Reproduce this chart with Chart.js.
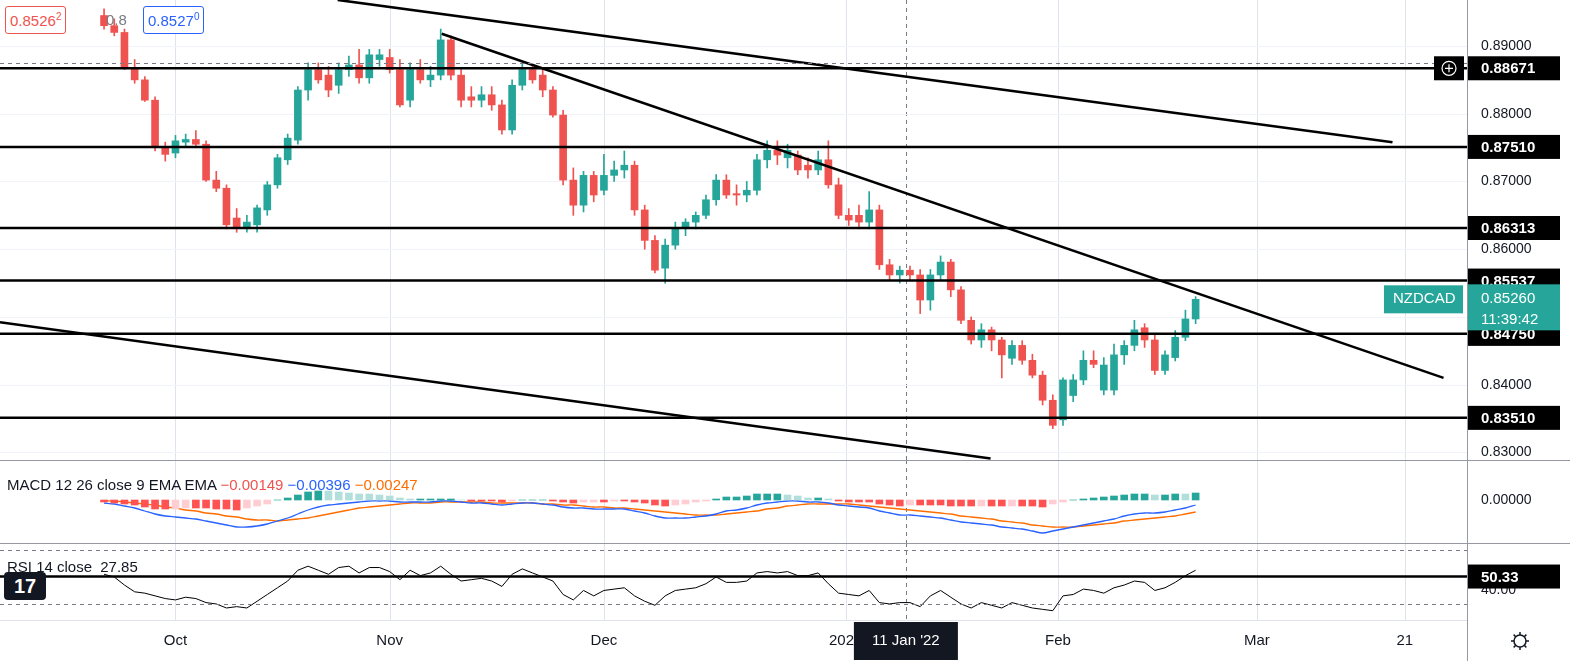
<!DOCTYPE html>
<html><head><meta charset="utf-8">
<script src="https://cdn.jsdelivr.net/npm/chart.js@4.4.0/dist/chart.umd.min.js"></script>
<style>
body{margin:0;background:#fff;width:1570px;height:661px;overflow:hidden;font-family:"Liberation Sans",Arial,sans-serif}
canvas{position:absolute;left:0}
#c1{top:0}#c2{top:460px}#c3{top:543px}
.sep{position:absolute;left:0;width:1570px;height:1px;background:#9598a1}
.lg{position:absolute;font-size:15px;color:#131722;white-space:nowrap}
</style></head><body>
<canvas id="c1" width="1570" height="460" style="width:1570px;height:460px"></canvas>
<canvas id="c2" width="1570" height="83" style="width:1570px;height:83px"></canvas>
<canvas id="c3" width="1570" height="118" style="width:1570px;height:118px"></canvas>
<div class="sep" style="top:460px"></div>
<div class="sep" style="top:543px"></div>
<div class="sep" style="top:620px;width:1468px;background:#e0e3eb"></div>
<div style="position:absolute;left:1467px;top:0;width:1px;height:661px;background:#9598a1"></div>
<div class="lg" style="left:5px;top:6px;border:1px solid #ef5350;color:#ef5350;border-radius:3px;padding:4px 4px;background:#fff">0.8526<sup style="font-size:10px">2</sup></div>
<div class="lg" style="left:106px;top:11px;color:#787b86">0.8</div>
<div class="lg" style="left:143px;top:6px;border:1px solid #2962ff;color:#2962ff;border-radius:3px;padding:4px 4px;background:#fff">0.8527<sup style="font-size:10px">0</sup></div>
<div class="lg" style="left:7px;top:476px">MACD 12 26 close 9 EMA EMA <span style="color:#ef5350">&minus;0.00149</span> <span style="color:#2962ff">&minus;0.00396</span> <span style="color:#ff6d00">&minus;0.00247</span></div>
<div class="lg" style="left:7px;top:558px">RSI 14 close <span style="margin-left:4px">27.85</span></div>
<div style="position:absolute;left:4px;top:572px;width:42px;height:28px;background:#131722;border-radius:4px;color:#fff;font-weight:bold;font-size:20px;text-align:center;line-height:28px">17</div>
<script>
const categoriesOHLC = [
[0.8945,0.8955,0.8925,0.8930],[0.8930,0.8940,0.8915,0.8920],[0.8920,0.8925,0.8865,0.8868],[0.8868,0.8880,0.8845,0.8850],
[0.8850,0.8855,0.8818,0.8820],[0.8820,0.8825,0.8745,0.8750],[0.8750,0.8758,0.8730,0.8740],[0.8742,0.8768,0.8735,0.8760],
[0.8758,0.8770,0.8750,0.8762],[0.8762,0.8775,0.8750,0.8755],[0.8755,0.8760,0.8700,0.8702],[0.8702,0.8715,0.8685,0.8690],
[0.8690,0.8695,0.8630,0.8636],[0.8646,0.8660,0.8625,0.8633],[0.8633,0.8650,0.8625,0.8640],[0.8636,0.8665,0.8625,0.8661],
[0.8658,0.8700,0.8650,0.8695],[0.8695,0.8740,0.8690,0.8735],[0.8732,0.8770,0.8725,0.8764],[0.8761,0.8840,0.8755,0.8835],
[0.8835,0.8875,0.8820,0.8865],[0.8865,0.8875,0.8845,0.8850],[0.8857,0.8870,0.8825,0.8835],[0.8842,0.8875,0.8830,0.8865],
[0.8865,0.8885,0.8855,0.8872],[0.8872,0.8895,0.8845,0.8853],[0.8853,0.8895,0.8845,0.8887],[0.8880,0.8895,0.8870,0.8887],
[0.8883,0.8895,0.8860,0.8865],[0.8865,0.8880,0.8810,0.8813],[0.8820,0.8875,0.8810,0.8865],[0.8865,0.8880,0.8845,0.8850],
[0.8850,0.8870,0.8840,0.8857],[0.8857,0.8925,0.8850,0.8909],[0.8909,0.8915,0.8850,0.8857],[0.8857,0.8865,0.8810,0.8820],
[0.8825,0.8840,0.8810,0.8820],[0.8820,0.8840,0.8810,0.8828],[0.8828,0.8840,0.8805,0.8813],[0.8813,0.8820,0.8770,0.8776],
[0.8776,0.8850,0.8770,0.8842],[0.8842,0.8875,0.8835,0.8865],[0.8865,0.8870,0.8845,0.8850],[0.8857,0.8865,0.8825,0.8835],
[0.8835,0.8840,0.8795,0.8798],[0.8798,0.8805,0.8695,0.8702],[0.8702,0.8720,0.8650,0.8665],[0.8665,0.8715,0.8655,0.8709],
[0.8709,0.8715,0.8670,0.8680],[0.8687,0.8740,0.8680,0.8709],[0.8709,0.8730,0.8700,0.8717],[0.8717,0.8745,0.8705,0.8724],
[0.8724,0.8730,0.8650,0.8658],[0.8658,0.8665,0.8600,0.8613],[0.8613,0.8620,0.8565,0.8569],[0.8572,0.8615,0.8550,0.8606],
[0.8606,0.8640,0.8600,0.8631],[0.8631,0.8645,0.8620,0.8640],[0.8640,0.8655,0.8630,0.8650],[0.8650,0.8680,0.8645,0.8673],
[0.8673,0.8710,0.8665,0.8702],[0.8702,0.8710,0.8675,0.8680],[0.8682,0.8695,0.8665,0.8680],[0.8680,0.8700,0.8670,0.8687],
[0.8687,0.8740,0.8680,0.8732],[0.8732,0.8760,0.8720,0.8746],[0.8746,0.8760,0.8725,0.8739],[0.8735,0.8755,0.8720,0.8746],
[0.8739,0.8745,0.8710,0.8717],[0.8724,0.8735,0.8705,0.8717],[0.8717,0.8745,0.8710,0.8732],[0.8732,0.8760,0.8690,0.8695],
[0.8695,0.8705,0.8645,0.8650],[0.8650,0.8660,0.8635,0.8643],[0.8650,0.8665,0.8630,0.8640],[0.8640,0.8685,0.8630,0.8658],
[0.8658,0.8665,0.8570,0.8577],[0.8577,0.8585,0.8555,0.8562],[0.8562,0.8575,0.8550,0.8569],[0.8569,0.8575,0.8555,0.8562],
[0.8562,0.8570,0.8505,0.8525],[0.8525,0.8570,0.8510,0.8562],[0.8562,0.8590,0.8555,0.8581],[0.8581,0.8585,0.8530,0.8540],
[0.8540,0.8545,0.8490,0.8495],[0.8495,0.8500,0.8460,0.8466],[0.8466,0.8490,0.8455,0.8481],[0.8481,0.8485,0.8450,0.8466],
[0.8466,0.8470,0.8410,0.8444],[0.8439,0.8465,0.8430,0.8458],[0.8458,0.8465,0.8430,0.8436],[0.8436,0.8445,0.8410,0.8414],
[0.8414,0.8420,0.8370,0.8377],[0.8377,0.8385,0.8335,0.8340],[0.8348,0.8410,0.8340,0.8407],[0.8384,0.8415,0.8375,0.8407],
[0.8407,0.8450,0.8400,0.8436],[0.8436,0.8450,0.8425,0.8430],[0.8392,0.8440,0.8385,0.8429],[0.8392,0.8460,0.8385,0.8444],
[0.8444,0.8465,0.8430,0.8458],[0.8458,0.8495,0.8450,0.8481],[0.8484,0.8490,0.8455,0.8466],[0.8466,0.8475,0.8415,0.8421],
[0.8421,0.8450,0.8415,0.8444],[0.8440,0.8480,0.8435,0.8470],[0.8470,0.8510,0.8465,0.8497],[0.8497,0.8530,0.8490,0.8526]];
const macdLine = [-0.0003,-0.0004,-0.0006,-0.0008,-0.0011,-0.0014,-0.0016,-0.0017,-0.0018,-0.0019,-0.0021,-0.0023,-0.0025,-0.0027,-0.0027,-0.0026,-0.0024,-0.0021,-0.0018,-0.0014,-0.0010,-0.0007,-0.0005,-0.0004,-0.0003,-0.0002,-0.0001,-0.0001,-0.0001,-0.0002,-0.0002,-0.0002,-0.0002,-0.0001,-0.0001,-0.0002,-0.0003,-0.0003,-0.0004,-0.0005,-0.0004,-0.0003,-0.0003,-0.0004,-0.0005,-0.0007,-0.0008,-0.0008,-0.0009,-0.0009,-0.0009,-0.0009,-0.0011,-0.0013,-0.0016,-0.0018,-0.0018,-0.0018,-0.0017,-0.0016,-0.0014,-0.0011,-0.0010,-0.0008,-0.0005,-0.0003,-0.0002,-0.0001,-0.0001,-0.0002,-0.0002,-0.0003,-0.0005,-0.0006,-0.0007,-0.0008,-0.0011,-0.0013,-0.0015,-0.0015,-0.0016,-0.0017,-0.0018,-0.0020,-0.0022,-0.0023,-0.0024,-0.0025,-0.0027,-0.0028,-0.0029,-0.0031,-0.0033,-0.0031,-0.0029,-0.0027,-0.0025,-0.0023,-0.0021,-0.0019,-0.0016,-0.0014,-0.0013,-0.0013,-0.0012,-0.0010,-0.0008,-0.0005];
const signalLine = [-0.0001,-0.0001,-0.0002,-0.0003,-0.0004,-0.0005,-0.0007,-0.0008,-0.0010,-0.0011,-0.0013,-0.0014,-0.0016,-0.0017,-0.0019,-0.0020,-0.0020,-0.0021,-0.0020,-0.0019,-0.0018,-0.0016,-0.0014,-0.0012,-0.0010,-0.0008,-0.0007,-0.0006,-0.0005,-0.0004,-0.0003,-0.0003,-0.0003,-0.0002,-0.0002,-0.0002,-0.0002,-0.0002,-0.0003,-0.0003,-0.0003,-0.0003,-0.0003,-0.0004,-0.0004,-0.0005,-0.0005,-0.0006,-0.0007,-0.0007,-0.0008,-0.0008,-0.0009,-0.0010,-0.0011,-0.0012,-0.0013,-0.0014,-0.0015,-0.0015,-0.0015,-0.0014,-0.0013,-0.0012,-0.0011,-0.0009,-0.0008,-0.0006,-0.0005,-0.0004,-0.0004,-0.0004,-0.0004,-0.0004,-0.0005,-0.0006,-0.0007,-0.0008,-0.0009,-0.0010,-0.0011,-0.0012,-0.0013,-0.0014,-0.0016,-0.0017,-0.0018,-0.0019,-0.0021,-0.0022,-0.0023,-0.0025,-0.0026,-0.0027,-0.0027,-0.0027,-0.0026,-0.0025,-0.0024,-0.0023,-0.0021,-0.0020,-0.0019,-0.0018,-0.0017,-0.0016,-0.0014,-0.0012];
const rsiValues = [52,50,44,39,38,36,34,33,35,34,31,30,27,28,27,32,37,42,47,55,58,55,52,57,58,53,57,57,54,48,55,51,53,58,52,47,48,49,47,43,52,56,53,50,47,37,33,40,36,40,41,42,36,32,29,36,40,41,42,45,50,46,46,47,53,54,53,54,51,51,53,45,38,37,36,40,31,30,31,31,28,36,40,35,30,27,31,29,27,31,29,27,26,25,36,37,41,40,38,42,44,47,46,40,42,46,51,55];
const levels = [0.88671,0.87510,0.86313,0.85537,0.84750,0.83510];
const levelLabels = ["0.88671","0.87510","0.86313","0.85537","0.84750","0.83510"];
const priceTicks = [0.89,0.88,0.87,0.86,0.85,0.84,0.83];
const trendLines = [[22.9,0.8968,126.3,0.8758],[33.1,0.8918,131.3,0.8410],[-10.2,0.8492,86.9,0.8291]];
const monthPos = [7,28,49,72.7,93.5,113,127.5];
const monthLabels = ["Oct","Nov","Dec","2022","Feb","Mar","21"];
const crossX = 78.6, crossLabel = "11 Jan '22", crossPrice = 0.88754;
const lastPrice = 0.8526;
const rsiLevel = 50.33;

const XMIN=-10.2, XMAX=133.7;
const UP='#26a69a', DN='#ef5350';
const FONT='"Liberation Sans", Arial, sans-serif';
function fitRight(s){s.width=102;}
const gridPlugin = {id:'g',beforeDatasetsDraw(ch){const c=ch.ctx,a=ch.chartArea,x=ch.scales.x;c.save();c.strokeStyle='#e0e3eb';c.lineWidth=1;
 monthPos.forEach(m=>{const px=Math.round(x.getPixelForValue(m))+0.5;c.beginPath();c.moveTo(px,a.top);c.lineTo(px,a.bottom);c.stroke();});
 c.setLineDash([4,4]);c.strokeStyle='#787b86';const px=Math.round(x.getPixelForValue(crossX))+0.5;c.beginPath();c.moveTo(px,a.top);c.lineTo(px,a.bottom);c.stroke();c.restore();}};
const xs = {type:'linear',min:XMIN,max:XMAX,display:false,offset:false};
const base = {responsive:false,animation:false,plugins:{legend:{display:false},tooltip:{enabled:false}},layout:{padding:0}};
const yHidden = {position:'right',afterFit:fitRight,border:{display:false},grid:{display:false},ticks:{display:false}};
function label(c,text,py){c.fillStyle='#131722';c.font='14px '+FONT;c.textBaseline='middle';c.textAlign='left';c.fillText(text,1481,py);}

const main = new Chart(document.getElementById('c1'),{type:'bar',
 data:{datasets:[
  {data:categoriesOHLC.map((d,i)=>({x:i,y:[d[2],d[1]]})),barThickness:1,backgroundColor:categoriesOHLC.map(d=>d[3]>=d[0]?UP:DN),grouped:false},
  {data:categoriesOHLC.map((d,i)=>({x:i,y:[d[0],d[3]]})),barThickness:7,minBarLength:1,backgroundColor:categoriesOHLC.map(d=>d[3]>=d[0]?UP:DN),grouped:false}]},
 options:{...base,scales:{x:xs,y:{...yHidden,min:0.82888,max:0.89679}}},
 plugins:[gridPlugin,{id:'gy',beforeDatasetsDraw(ch){const c=ch.ctx,y=ch.scales.y,a=ch.chartArea;c.save();c.strokeStyle='#f0f3fa';
   priceTicks.forEach(p=>{const py=Math.round(y.getPixelForValue(p))+0.5;c.beginPath();c.moveTo(a.left,py);c.lineTo(a.right,py);c.stroke();});c.restore();}},
 {id:'m',afterDraw(ch){const c=ch.ctx,x=ch.scales.x,y=ch.scales.y,a=ch.chartArea;c.save();
  priceTicks.forEach(p=>label(c,p.toFixed(5),y.getPixelForValue(p)));
  c.strokeStyle='#000';c.lineWidth=2.5;
  levels.forEach(l=>{const py=y.getPixelForValue(l);c.beginPath();c.moveTo(a.left,py);c.lineTo(a.right,py);c.stroke();});
  trendLines.forEach(t=>{c.beginPath();c.moveTo(x.getPixelForValue(t[0]),y.getPixelForValue(t[1]));c.lineTo(x.getPixelForValue(t[2]),y.getPixelForValue(t[3]));c.stroke();});
  c.lineWidth=1;c.strokeStyle='#787b86';c.setLineDash([4,4]);const cy=Math.round(y.getPixelForValue(crossPrice))+0.5;c.beginPath();c.moveTo(a.left,cy);c.lineTo(a.right,cy);c.stroke();c.setLineDash([]);
  c.font='bold 15px '+FONT;c.textBaseline='middle';
  levels.forEach((l,i)=>{const py=y.getPixelForValue(l);c.fillStyle='#000';c.fillRect(1468,py-12,92,24);c.fillStyle='#fff';c.fillText(levelLabels[i],1481,py+1);});
  const py0=y.getPixelForValue(levels[0]);c.fillStyle='#000';c.fillRect(1434,py0-12,30,24);c.strokeStyle='#fff';c.lineWidth=1.2;c.beginPath();c.arc(1449,py0,7,0,7);c.stroke();c.beginPath();c.moveTo(1445,py0);c.lineTo(1453,py0);c.moveTo(1449,py0-4);c.lineTo(1449,py0+4);c.stroke();
  const lp=y.getPixelForValue(lastPrice);c.fillStyle=UP;c.fillRect(1468,lp-15,92,46);c.fillRect(1384,lp-14,79,28);
  c.fillStyle='#fff';c.font='15px '+FONT;c.fillText('NZDCAD',1393,lp);c.fillText('0.85260',1481,lp);c.fillText('11:39:42',1481,lp+21);
  c.restore();}}]});

const macd = new Chart(document.getElementById('c2'),{type:'bar',
 data:{datasets:[
  {type:'bar',data:macdLine.map((m,i)=>({x:i,y:m-signalLine[i]})),barThickness:7,grouped:false,
   backgroundColor:macdLine.map((m,i)=>{const h=m-signalLine[i],p=i?macdLine[i-1]-signalLine[i-1]:h;return h>=0?(h>=p?'#26a69a':'#b2dfdb'):(h<=p?'#ff5252':'#ffcdd2');})},
  {type:'line',data:macdLine.map((m,i)=>({x:i,y:m})),borderColor:'#2962ff',borderWidth:1.3,pointRadius:0,tension:0.3},
  {type:'line',data:signalLine.map((m,i)=>({x:i,y:m})),borderColor:'#ff6d00',borderWidth:1.3,pointRadius:0,tension:0.3}]},
 options:{...base,scales:{x:xs,y:{...yHidden,min:-0.0043,max:0.004}}},
 plugins:[gridPlugin,{id:'ml',afterDraw(ch){const c=ch.ctx;c.save();label(c,'0.00000',ch.scales.y.getPixelForValue(0));c.restore();}}]});

const rsi = new Chart(document.getElementById('c3'),{type:'line',
 data:{datasets:[{data:rsiValues.map((r,i)=>({x:i,y:r})),borderColor:'#000',borderWidth:1,pointRadius:0}]},
 options:{...base,layout:{padding:{bottom:41}},scales:{x:xs,y:{...yHidden,min:18.1,max:75.2}}},
 plugins:[gridPlugin,{id:'r',afterDraw(ch){const c=ch.ctx,x=ch.scales.x,y=ch.scales.y,a=ch.chartArea;c.save();
  label(c,'40.00',y.getPixelForValue(40));
  c.strokeStyle='#787b86';c.lineWidth=1;c.setLineDash([4,4]);[70,30].forEach(v=>{const py=Math.round(y.getPixelForValue(v))+0.5;c.beginPath();c.moveTo(a.left,py);c.lineTo(a.right,py);c.stroke();});
  c.setLineDash([]);c.strokeStyle='#000';c.lineWidth=2.5;const ry=y.getPixelForValue(rsiLevel);c.beginPath();c.moveTo(a.left,ry);c.lineTo(a.right,ry);c.stroke();
  c.fillStyle='#000';c.fillRect(1468,ry-12,92,24);c.fillStyle='#fff';c.font='bold 15px '+FONT;c.textBaseline='middle';c.fillText('50.33',1481,ry+1);
  c.fillStyle='#131722';c.font='15px '+FONT;c.textAlign='center';
  monthPos.forEach((m,i)=>c.fillText(monthLabels[i],x.getPixelForValue(m),a.bottom+21));
  const cx=x.getPixelForValue(crossX);c.fillStyle='#131722';c.fillRect(cx-52,a.bottom+2,104,38);c.fillStyle='#fff';c.fillText(crossLabel,cx,a.bottom+21);
  c.strokeStyle='#131722';c.lineWidth=1.5;c.beginPath();c.arc(1520,a.bottom+21,6,0,7);c.stroke();
  for(let k=0;k<8;k++){const an=k*Math.PI/4;c.beginPath();c.moveTo(1520+Math.cos(an)*6,a.bottom+21+Math.sin(an)*6);c.lineTo(1520+Math.cos(an)*9,a.bottom+21+Math.sin(an)*9);c.stroke();}
  c.restore();}}]});
</script></body></html>
